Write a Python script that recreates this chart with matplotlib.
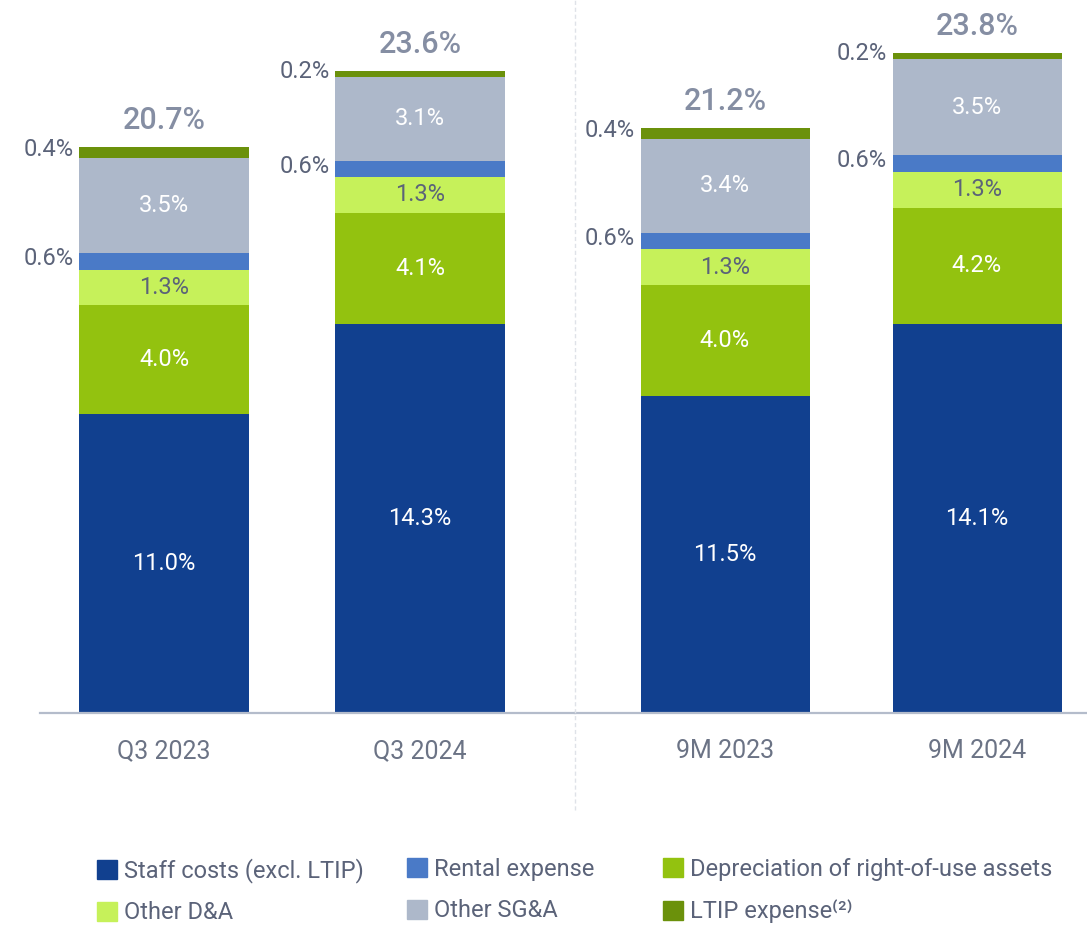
import matplotlib
matplotlib.use("Agg")
import matplotlib.pyplot as plt
from matplotlib.patches import Patch
from matplotlib.lines import Line2D

plt.rcParams['font.family'] = ['Roboto', 'DejaVu Sans']

# data
periods_q = ['Q3 2023', 'Q3 2024']
periods_9m = ['9M 2023', '9M 2024']
staff_q = [11.0, 14.3]
dep_q = [4.0, 4.1]
other_da_q = [1.3, 1.3]
rental_q = [0.6, 0.6]
sga_q = [3.5, 3.1]
ltip_q = [0.4, 0.2]
total_q = [20.7, 23.6]

staff_9m = [11.5, 14.1]
dep_9m = [4.0, 4.2]
other_da_9m = [1.3, 1.3]
rental_9m = [0.6, 0.6]
sga_9m = [3.4, 3.5]
ltip_9m = [0.4, 0.2]
total_9m = [21.2, 23.8]

C_STAFF = '#11408f'
C_RENT = '#4a7ac7'
C_DEP = '#93c20f'
C_ODA = '#c6f15a'
C_SGA = '#adb8ca'
C_LTIP = '#6b910b'
TXT = '#5b6379'
TOT = '#858ea3'

fig = plt.figure(figsize=(10.87, 9.27), dpi=100)
ax1 = fig.add_axes([40/1087, 1-713/927, 535/1087, 693/927])
ax2 = fig.add_axes([575/1087, 1-713/927, 512/1087, 693/927])


def draw(ax, labels, staff, dep, oda, rent, sga, ltip, total, width):
    x = list(range(len(labels)))
    series = [
        (staff, C_STAFF, 'white', 'in'),
        (dep, C_DEP, 'white', 'in'),
        (oda, C_ODA, TXT, 'in'),
        (rent, C_RENT, TXT, 'out'),
        (sga, C_SGA, 'white', 'in'),
        (ltip, C_LTIP, TXT, 'out'),
    ]
    bottom = [0.0] * len(x)
    for vals, col, tcol, where in series:
        ax.bar(x, vals, width, bottom=bottom, color=col, linewidth=0)
        for i, v in enumerate(vals):
            mid = bottom[i] + v / 2
            if where == 'in':
                ax.text(x[i], mid, f'{v:.1f}%', ha='center', va='center',
                        color=tcol, fontsize=17)
            else:
                ax.annotate(f'{v:.1f}%', xy=(x[i] - width / 2, mid),
                            xytext=(-4, 2), textcoords='offset points',
                            ha='right', va='center', color=tcol, fontsize=17)
        bottom = [b + v for b, v in zip(bottom, vals)]
    for i, t in enumerate(total):
        ax.annotate(f'{t:.1f}%', xy=(x[i], bottom[i]), xytext=(0, 13),
                    textcoords='offset points', ha='center', va='baseline',
                    color=TOT, fontsize=22, fontweight='medium')
    ax.set_xticks(x)
    ax.set_xticklabels(labels)
    ax.tick_params(axis='x', length=0, pad=19, labelsize=18, labelcolor='#6b7385')
    ax.set_yticks([])
    for s in ['top', 'left', 'right']:
        ax.spines[s].set_visible(False)
    ax.spines['bottom'].set_color('#b4bccb')
    ax.spines['bottom'].set_linewidth(1.6)


draw(ax1, periods_q, staff_q, dep_q, other_da_q, rental_q, sga_q, ltip_q, total_q, 170/256)
ax1.set_xlim(-124/256, 411/256)
ax1.set_ylim(0, 693/27.2)

draw(ax2, periods_9m, staff_9m, dep_9m, other_da_9m, rental_9m, sga_9m, ltip_9m, total_9m, 169/252)
ax2.set_xlim(-150/252, 362/252)
ax2.set_ylim(0, 693/27.6)

# dashed separator between the two panels
fig.add_artist(Line2D([575/1087, 575/1087], [1-810/927, 1.0], transform=fig.transFigure,
                      color='#dfe2e8', linewidth=1, linestyle=(0, (3, 2))))

legend_cols = [
    (97, [(C_STAFF, 'Staff costs (excl. LTIP)'), (C_ODA, 'Other D&A')]),
    (407, [(C_RENT, 'Rental expense'), (C_SGA, 'Other SG&A')]),
    (663, [(C_DEP, 'Depreciation of right-of-use assets'), (C_LTIP, 'LTIP expense⁽²⁾')]),
]
for xpix, entries in legend_cols:
    handles = [Patch(color=c, label=l) for c, l in entries]
    leg = fig.legend(handles=handles, ncol=1, loc='upper left',
                     bbox_to_anchor=(xpix/1087, 1-858/927), frameon=False,
                     fontsize=17, handlelength=0.85, handleheight=0.85,
                     handletextpad=0.3, labelspacing=0.78,
                     borderpad=0, borderaxespad=0)
    for t in leg.get_texts():
        t.set_color(TXT)

fig.savefig('out.png', dpi=100)
